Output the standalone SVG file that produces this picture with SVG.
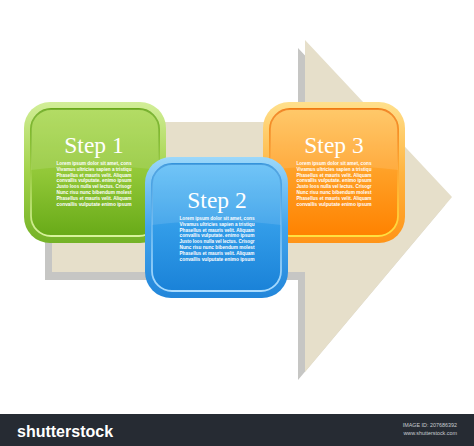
<svg xmlns="http://www.w3.org/2000/svg" width="474" height="446" viewBox="0 0 474 446">
  <defs>
    <linearGradient id="gRim" x1="0" y1="0" x2="0" y2="1"><stop offset="0" stop-color="#d2ee98"/><stop offset="0.5" stop-color="#a2d24a"/><stop offset="1" stop-color="#74b226"/></linearGradient>
    <linearGradient id="gBody" x1="0" y1="0" x2="0" y2="1"><stop offset="0" stop-color="#aad852"/><stop offset="0.5" stop-color="#92c838"/><stop offset="1" stop-color="#68aa18"/></linearGradient>
    <linearGradient id="gLine" x1="0" y1="0" x2="0" y2="1"><stop offset="0" stop-color="#68a818"/><stop offset="0.5" stop-color="#9ccd44"/><stop offset="1" stop-color="#d8f39c"/></linearGradient>
    <linearGradient id="bRim" x1="0" y1="0" x2="0" y2="1"><stop offset="0" stop-color="#9cd8fa"/><stop offset="0.5" stop-color="#42a4ec"/><stop offset="1" stop-color="#2286da"/></linearGradient>
    <linearGradient id="bBody" x1="0" y1="0" x2="0" y2="1"><stop offset="0" stop-color="#60bef6"/><stop offset="0.5" stop-color="#329ce8"/><stop offset="1" stop-color="#1a82d8"/></linearGradient>
    <linearGradient id="bLine" x1="0" y1="0" x2="0" y2="1"><stop offset="0" stop-color="#3494dc"/><stop offset="0.5" stop-color="#6ab8f0"/><stop offset="1" stop-color="#aadcff"/></linearGradient>
    <linearGradient id="oRim" x1="0" y1="0" x2="0" y2="1"><stop offset="0" stop-color="#ffe08c"/><stop offset="0.5" stop-color="#ffb440"/><stop offset="1" stop-color="#ff9418"/></linearGradient>
    <linearGradient id="oBody" x1="0" y1="0" x2="0" y2="1"><stop offset="0" stop-color="#ffc258"/><stop offset="0.5" stop-color="#ffa026"/><stop offset="1" stop-color="#ff8200"/></linearGradient>
    <linearGradient id="oLine" x1="0" y1="0" x2="0" y2="1"><stop offset="0" stop-color="#f07a10"/><stop offset="0.5" stop-color="#ffa830"/><stop offset="1" stop-color="#ffe040"/></linearGradient>
  </defs>
  <style>
    .arrow { fill: #e6dfca; }
    .arrow-shadow { fill: #c6c6c4; }
    .gloss { fill: #ffffff; opacity: 0.11; }
    .step { font-family: "Liberation Serif", "DejaVu Serif", serif; font-size: 23.5px; fill: #ffffff; text-anchor: middle; }
    .lorem { font-family: "Liberation Sans", Arial, sans-serif; font-size: 5.2px; font-weight: bold; fill: #ffffff; text-anchor: middle; }
    .green .rim { fill: url(#gRim); } .green .body { fill: url(#gBody); stroke: url(#gLine); stroke-width: 1.8; }
    .blue .rim { fill: url(#bRim); } .blue .body { fill: url(#bBody); stroke: url(#bLine); stroke-width: 1.8; }
    .orange .rim { fill: url(#oRim); } .orange .body { fill: url(#oBody); stroke: url(#oLine); stroke-width: 1.8; }
    .bar { fill: #262b33; }
    .logo { font-family: "Liberation Sans", Arial, sans-serif; font-size: 16px; font-weight: bold; fill: #ffffff; }
    .meta { font-family: "Liberation Sans", Arial, sans-serif; font-size: 5.4px; fill: #c8ccd2; text-anchor: end; }
  </style>
  <rect width="474" height="446" fill="#ffffff"/>

  <g id="connectors">
    <path class="arrow-shadow" d="M45,130 H298 V48 L445,205 L298,380 V280 H45 Z"/>
    <path class="arrow" d="M52,122 H305 V40 L452,197 L305,372 V272 H52 Z"/>
  </g>

  <g id="step1" class="green" transform="translate(24,102)">
    <rect class="rim" x="0" y="0" width="142" height="141" rx="26"/>
    <rect class="body" x="7" y="7" width="128" height="127" rx="20"/>
    <path class="gloss" d="M7,68 V27 Q7,7 27,7 H115 Q135,7 135,27 V68 Q71,60 7,68 Z"/>
    <text class="step" x="70" y="51">Step 1</text>
    <g class="lorem">
      <text x="70" y="63" textLength="75" lengthAdjust="spacingAndGlyphs">Lorem ipsum dolor sit amet, cons</text>
      <text x="70" y="68.8" textLength="75" lengthAdjust="spacingAndGlyphs">Vivamus ultricies sapien a tristiqu</text>
      <text x="70" y="74.6" textLength="75" lengthAdjust="spacingAndGlyphs">Phasellus et mauris velit. Aliquam</text>
      <text x="70" y="80.4" textLength="75" lengthAdjust="spacingAndGlyphs">convallis vulputate. enimo ipsum</text>
      <text x="70" y="86.2" textLength="75" lengthAdjust="spacingAndGlyphs">Justo loos nulla vel lectus. Crisogr</text>
      <text x="70" y="92" textLength="75" lengthAdjust="spacingAndGlyphs">Nunc risu nunc bibendum molest</text>
      <text x="70" y="97.8" textLength="75" lengthAdjust="spacingAndGlyphs">Phasellus et mauris velit. Aliquam</text>
      <text x="70" y="103.6" textLength="75" lengthAdjust="spacingAndGlyphs">convallis vulputate  enimo ipsum</text>
    </g>
  </g>

  <g id="step3" class="orange" transform="translate(263,102)">
    <rect class="rim" x="0" y="0" width="142" height="141" rx="26"/>
    <rect class="body" x="7" y="7" width="128" height="127" rx="20"/>
    <path class="gloss" d="M7,68 V27 Q7,7 27,7 H115 Q135,7 135,27 V68 Q71,60 7,68 Z"/>
    <text class="step" x="71" y="51">Step 3</text>
    <g class="lorem">
      <text x="71" y="63" textLength="75" lengthAdjust="spacingAndGlyphs">Lorem ipsum dolor sit amet, cons</text>
      <text x="71" y="68.8" textLength="75" lengthAdjust="spacingAndGlyphs">Vivamus ultricies sapien a tristiqu</text>
      <text x="71" y="74.6" textLength="75" lengthAdjust="spacingAndGlyphs">Phasellus et mauris velit. Aliquam</text>
      <text x="71" y="80.4" textLength="75" lengthAdjust="spacingAndGlyphs">convallis vulputate. enimo ipsum</text>
      <text x="71" y="86.2" textLength="75" lengthAdjust="spacingAndGlyphs">Justo loos nulla vel lectus. Crisogr</text>
      <text x="71" y="92" textLength="75" lengthAdjust="spacingAndGlyphs">Nunc risu nunc bibendum molest</text>
      <text x="71" y="97.8" textLength="75" lengthAdjust="spacingAndGlyphs">Phasellus et mauris velit. Aliquam</text>
      <text x="71" y="103.6" textLength="75" lengthAdjust="spacingAndGlyphs">convallis vulputate  enimo ipsum</text>
    </g>
  </g>

  <g id="step2" class="blue" transform="translate(145,157)">
    <rect class="rim" x="0" y="0" width="143" height="141" rx="26"/>
    <rect class="body" x="7" y="7" width="129" height="127" rx="20"/>
    <path class="gloss" d="M7,68 V27 Q7,7 27,7 H116 Q136,7 136,27 V68 Q71,60 7,68 Z"/>
    <text class="step" x="72" y="51">Step 2</text>
    <g class="lorem">
      <text x="72" y="63" textLength="75" lengthAdjust="spacingAndGlyphs">Lorem ipsum dolor sit amet, cons</text>
      <text x="72" y="68.8" textLength="75" lengthAdjust="spacingAndGlyphs">Vivamus ultricies sapien a tristiqu</text>
      <text x="72" y="74.6" textLength="75" lengthAdjust="spacingAndGlyphs">Phasellus et mauris velit. Aliquam</text>
      <text x="72" y="80.4" textLength="75" lengthAdjust="spacingAndGlyphs">convallis vulputate. enimo ipsum</text>
      <text x="72" y="86.2" textLength="75" lengthAdjust="spacingAndGlyphs">Justo loos nulla vel lectus. Crisogr</text>
      <text x="72" y="92" textLength="75" lengthAdjust="spacingAndGlyphs">Nunc risu nunc bibendum molest</text>
      <text x="72" y="97.8" textLength="75" lengthAdjust="spacingAndGlyphs">Phasellus et mauris velit. Aliquam</text>
      <text x="72" y="103.6" textLength="75" lengthAdjust="spacingAndGlyphs">convallis vulputate  enimo ipsum</text>
    </g>
  </g>

  <g id="footer">
    <rect class="bar" x="0" y="414" width="474" height="32"/>
    <text class="logo" x="17" y="437">shutterstock</text>
    <text class="meta" x="457" y="427">IMAGE ID: 207686392</text>
    <text class="meta" x="457" y="435">www.shutterstock.com</text>
  </g>
</svg>
